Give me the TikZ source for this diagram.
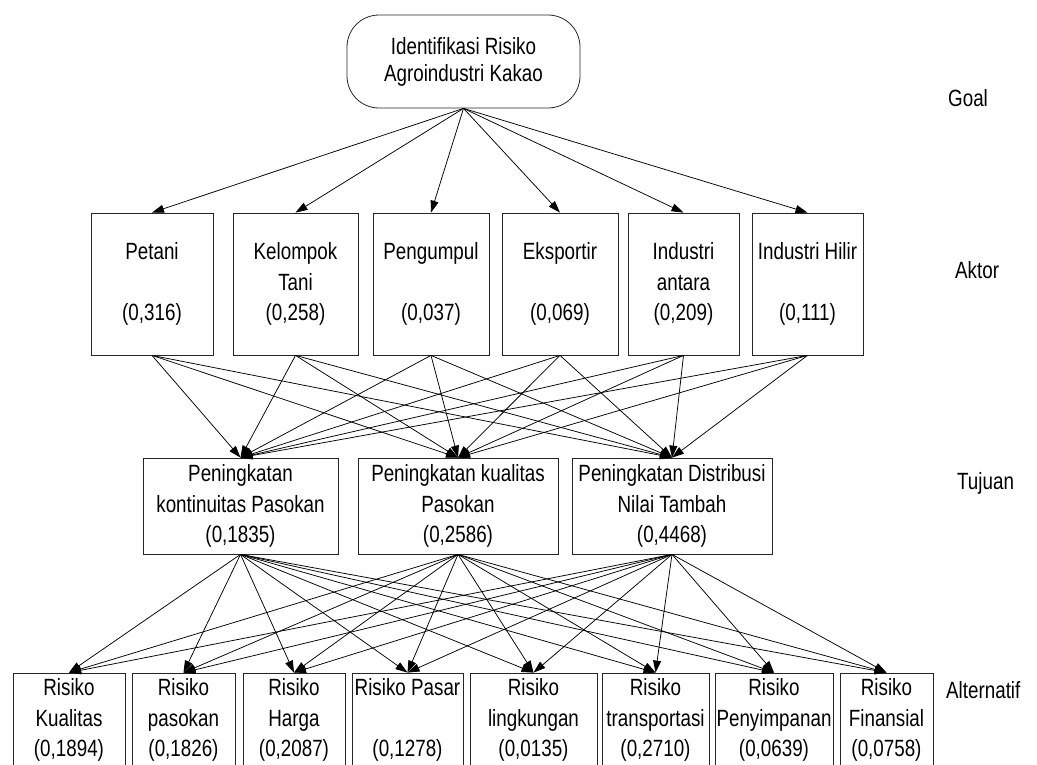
\documentclass[tikz,border=0pt]{standalone}
\usepackage{fontspec}
\setmainfont[FakeStretch=0.80]{Liberation Sans}
\usetikzlibrary{arrows.meta}
\tikzset{
  box/.style={draw=black!85, line width=0.8pt, inner sep=0pt, align=center,
    font=\fontsize{23.5}{30.5}\selectfont},
  goalbox/.style={box, rounded corners=32pt, font=\fontsize{23.5}{27}\selectfont},
  arr/.style={-{Triangle[length=12pt,width=8pt]}, line width=0.75pt},
  lvl/.style={anchor=west, inner sep=0pt, font=\fontsize{23.5}{30}\selectfont}
}
\begin{document}
\begin{tikzpicture}[x=1pt,y=-1pt]
\useasboundingbox (0,0) rectangle (1037,764);
% Goal
\node[goalbox, minimum width=233pt, minimum height=93pt] (g) at (463.5,61.5) {Identifikasi Risiko\\Agroindustri Kakao};
% Aktor
\node[box, minimum width=122pt, minimum height=142pt] (p1) at (152,284) {Petani\\\mbox{}\\(0,316)};
\node[box, minimum width=125pt, minimum height=142pt] (p2) at (295.5,284) {Kelompok\\Tani\\(0,258)};
\node[box, minimum width=116pt, minimum height=142pt] (p3) at (431,284) {Pengumpul\\\mbox{}\\(0,037)};
\node[box, minimum width=116pt, minimum height=142pt] (p4) at (560,284) {Eksportir\\\mbox{}\\(0,069)};
\node[box, minimum width=111pt, minimum height=142pt] (p5) at (683.5,284) {Industri\\antara\\(0,209)};
\node[box, minimum width=111pt, minimum height=142pt] (p6) at (807.5,284) {Industri Hilir\\\mbox{}\\(0,111)};
% Tujuan
\node[box, minimum width=195pt, minimum height=96pt] (t1) at (240.5,506) {Peningkatan\\kontinuitas Pasokan\\(0,1835)};
\node[box, minimum width=200pt, minimum height=96pt] (t2) at (458,506) {Peningkatan kualitas\\Pasokan\\(0,2586)};
\node[box, minimum width=200pt, minimum height=96pt] (t3) at (672,506) {Peningkatan Distribusi\\Nilai Tambah\\(0,4468)};
% Alternatif
\node[box, minimum width=112pt, minimum height=94pt] (a1) at (69,720) {Risiko\\Kualitas\\(0,1894)};
\node[box, minimum width=103pt, minimum height=94pt] (a2) at (183.5,720) {Risiko\\pasokan\\(0,1826)};
\node[box, minimum width=102pt, minimum height=94pt] (a3) at (294,720) {Risiko\\Harga\\(0,2087)};
\node[box, minimum width=111pt, minimum height=94pt] (a4) at (407.5,720) {Risiko Pasar\\\mbox{}\\(0,1278)};
\node[box, minimum width=127pt, minimum height=94pt] (a5) at (533.5,720) {Risiko\\lingkungan\\(0,0135)};
\node[box, minimum width=107pt, minimum height=94pt] (a6) at (655.5,720) {Risiko\\transportasi\\(0,2710)};
\node[box, minimum width=118pt, minimum height=94pt] (a7) at (774,720) {Risiko\\Penyimpanan\\(0,0639)};
\node[box, minimum width=93pt, minimum height=94pt] (a8) at (886.5,720) {Risiko\\Finansial\\(0,0758)};
% Level labels
\node[lvl] (lg) at (948,98) {Goal};
\node[lvl] (la) at (955,270) {Aktor};
\node[lvl] (lt) at (957,483) {Tujuan};
\node[lvl] (lf) at (946,690) {Alternatif};
% Connectors
\foreach \p in {p1,p2,p3,p4,p5,p6} {
  \draw[arr] (g.south) -- (\p.north);
}
\foreach \p in {p1,p2,p3,p4,p5,p6} {
  \foreach \t in {t1,t2,t3} {
    \draw[arr] (\p.south) -- (\t.north);
  }
}
\foreach \t in {t1,t2,t3} {
  \foreach \a in {a1,a2,a3,a4,a5,a6,a7,a8} {
    \draw[arr] (\t.south) -- (\a.north);
  }
}
\end{tikzpicture}
\end{document}
